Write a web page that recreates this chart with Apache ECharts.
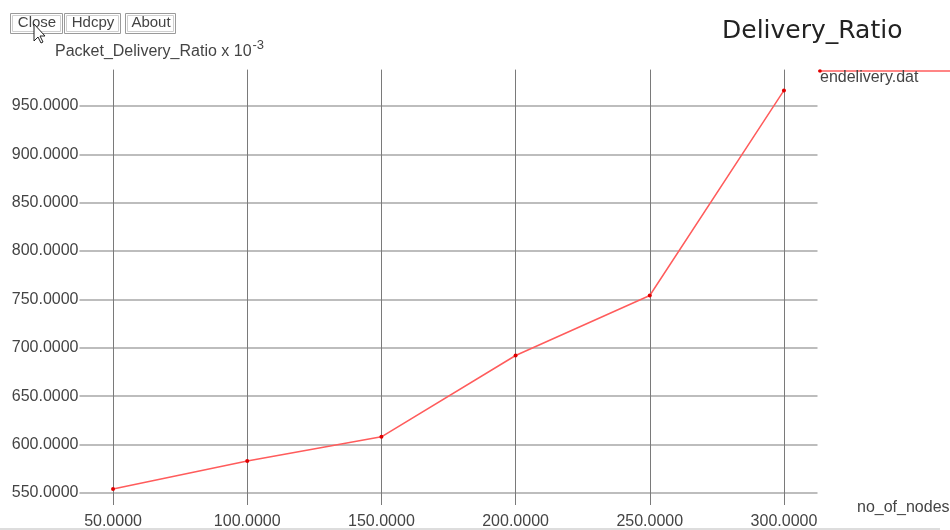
<!DOCTYPE html>
<html>
<head>
<meta charset="utf-8">
<script src="https://cdn.jsdelivr.net/npm/echarts@6/dist/echarts.min.js"></script>
<style>
  html, body { margin: 0; padding: 0; background: #fff; }
  #chart { width: 950px; height: 530px; }
</style>
</head>
<body>
<div id="chart"></div>
<script>
const chart = echarts.init(document.getElementById('chart'), null, { renderer: 'canvas' });

// data
const nodes = [50, 100, 150, 200, 250, 300];
const delivery = [554, 583, 608, 692, 754, 966];

// grid lines / tick labels
const xTicks = [50, 100, 150, 200, 250, 300];
const yTicks = [550, 600, 650, 700, 750, 800, 850, 900, 950];

const buttons = ['Close', 'Hdcpy', 'About'];
const buttonX = [11, 65, 126];
const buttonW = [52, 56, 50];

const font = '"Liberation Sans", Arial, sans-serif';
const txt = '#444';

const graphics = [];
// the buttons in the top left
buttons.forEach((b, i) => {
    graphics.push({
        type: 'rect', x: buttonX[i] - 0.5, y: 13.5,
        shape: { width: buttonW[i], height: 20 },
        style: { fill: '#fff', stroke: '#9a9a9a', lineWidth: 1 }
    });
    graphics.push({
        type: 'rect', x: buttonX[i] + 1.5, y: 15.5,
        shape: { width: buttonW[i] - 4, height: 16 },
        style: { fill: 'none', stroke: '#cfcfcf', lineWidth: 1 }
    });
    graphics.push({
        type: 'text', x: buttonX[i] + buttonW[i] / 2, y: 23,
        style: { text: b, font: '15px ' + font, fill: txt, align: 'center', verticalAlign: 'middle' }
    });
});
// mouse pointer over "Close"
graphics.push({
    type: 'polygon', z: 100,
    shape: { points: [[34, 24], [34, 41], [38, 37], [41, 43], [43, 42], [40, 36], [45, 36]] },
    style: { fill: '#fff', stroke: '#222', lineWidth: 1 }
});
// bottom border
graphics.push({
    type: 'line', shape: { x1: 0, y1: 529, x2: 940, y2: 529 },
    style: { stroke: '#bbb', lineWidth: 1 }
});
// legend
graphics.push({
    type: 'line', shape: { x1: 818, y1: 71, x2: 950, y2: 71 },
    style: { stroke: '#ff5c5c', lineWidth: 1.5 }
});
graphics.push({
    type: 'circle', shape: { cx: 820, cy: 71, r: 1.8 },
    style: { fill: '#e00000' }
});
graphics.push({
    type: 'text', x: 820, y: 78,
    style: { text: 'endelivery.dat', font: '16px ' + font, fill: txt, verticalAlign: 'middle' }
});
// y axis name with superscript
graphics.push({
    type: 'text', x: 55, y: 51.5,
    style: {
        text: '{a|Packet_Delivery_Ratio x 10}{s|-3}',
        verticalAlign: 'middle',
        rich: {
            a: { font: '16px ' + font, fill: txt },
            s: { font: '13px ' + font, fill: txt, padding: [0, 0, 12, 1] }
        }
    }
});
// x axis name
graphics.push({
    type: 'text', x: 857, y: 508,
    style: { text: 'no_of_nodes', font: '16px ' + font, fill: txt, verticalAlign: 'middle' }
});
// title
graphics.push({
    type: 'text', x: 722, y: 31,
    style: { text: 'Delivery_Ratio', font: '25px "DejaVu Sans", sans-serif', fill: '#222', verticalAlign: 'middle' }
});

const option = {
    backgroundColor: '#fff',
    animation: false,
    grid: { left: 79.5, right: 132.5, top: 69.6, bottom: 23.4 },
    xAxis: {
        type: 'value', min: 37.5, max: 312.5, interval: 12.5,
        axisLine: { show: false }, axisTick: { show: false }, splitLine: { show: false },
        axisLabel: {
            margin: 9, fontFamily: font, fontSize: 16, color: txt,
            showMinLabel: false, showMaxLabel: false,
            formatter: v => xTicks.includes(v) ? v.toFixed(4) : ''
        }
    },
    yAxis: {
        type: 'value', min: 537.5, max: 987.5, interval: 12.5,
        axisLine: { show: false }, axisTick: { show: false }, splitLine: { show: false },
        axisLabel: {
            margin: 1, fontFamily: font, fontSize: 16, color: txt,
            showMinLabel: false, showMaxLabel: false,
            formatter: v => yTicks.includes(v) ? v.toFixed(4) : ''
        }
    },
    series: [{
        type: 'line',
        data: nodes.map((n, i) => [n, delivery[i]]),
        symbol: 'circle', symbolSize: 4,
        itemStyle: { color: '#e00000' },
        lineStyle: { color: '#ff5c5c', width: 1.5 },
        z: 5,
        markLine: {
            silent: true, symbol: 'none', label: { show: false }, z: 1,
            data: [
                ...yTicks.map(v => ({ yAxis: v, lineStyle: { color: '#bdbdbd', width: 2, type: 'solid' } })),
                ...xTicks.map(v => ({ xAxis: v, lineStyle: { color: '#7a7a7a', width: 1, type: 'solid' } }))
            ]
        }
    }],
    graphic: graphics
};

chart.setOption(option);
</script>
</body>
</html>
